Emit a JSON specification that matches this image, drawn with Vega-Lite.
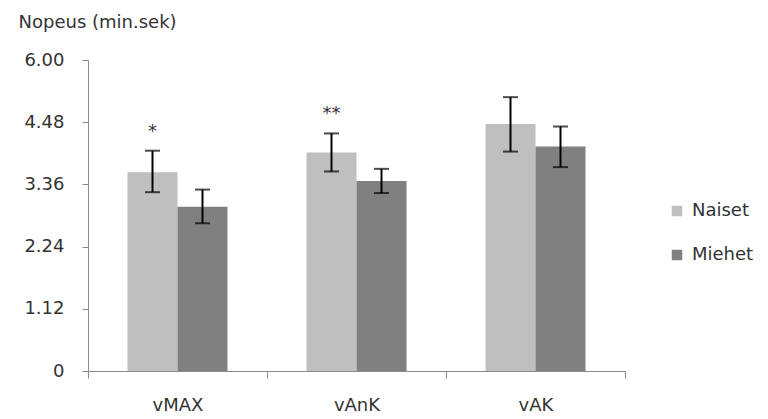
{
  "$schema": "https://vega.github.io/schema/vega-lite/v6.json",
  "width": 537,
  "height": 311,
  "autosize": {"type": "none"},
  "padding": {"left": 88, "top": 60, "right": 143, "bottom": 48},
  "background": "white",
  "config": {
    "view": {"stroke": null},
    "font": "DejaVu Sans",
    "axis": {"labelFont": "DejaVu Sans", "titleFont": "DejaVu Sans", "labelColor": "#333333", "titleColor": "#333333"},
    "legend": {"labelFont": "DejaVu Sans"}
  },
  "data": {
    "values": [
      {"test": "vMAX", "group": "Naiset", "mean": 230, "lo": 207, "hi": 255, "star": "*"},
      {"test": "vMAX", "group": "Miehet", "mean": 190, "lo": 171, "hi": 210, "star": ""},
      {"test": "vAnK", "group": "Naiset", "mean": 253, "lo": 231, "hi": 275, "star": "**"},
      {"test": "vAnK", "group": "Miehet", "mean": 220, "lo": 206, "hi": 234, "star": ""},
      {"test": "vAK", "group": "Naiset", "mean": 286, "lo": 254, "hi": 317, "star": ""},
      {"test": "vAK", "group": "Miehet", "mean": 260, "lo": 236, "hi": 283, "star": ""}
    ]
  },
  "encoding": {
    "x": {
      "field": "test",
      "type": "nominal",
      "sort": ["vMAX", "vAnK", "vAK"],
      "scale": {"paddingInner": 0, "paddingOuter": 0},
      "axis": {
        "title": null,
        "labelAngle": 0,
        "labelFontSize": 18,
        "labelPadding": 18,
        "domainColor": "#8a8a8a",
        "tickColor": "#8a8a8a",
        "tickSize": 7,
        "tickBand": "extent"
      }
    },
    "xOffset": {
      "field": "group",
      "type": "nominal",
      "sort": ["Naiset", "Miehet"],
      "scale": {"paddingInner": 0, "paddingOuter": 0.79}
    }
  },
  "layer": [
    {
      "mark": {"type": "bar"},
      "encoding": {
        "y": {
          "field": "mean",
          "type": "quantitative",
          "scale": {"domain": [0, 360], "nice": false},
          "axis": {
            "values": [0, 72, 144, 216, 288, 360],
            "labelExpr": "datum.value == 0 ? '0' : floor(datum.value / 60) + '.' + (datum.value % 60 < 10 ? '0' : '') + (datum.value % 60)",
            "grid": false,
            "labelFontSize": 18,
            "labelPadding": 18,
            "tickSize": 6,
            "domainColor": "#8a8a8a",
            "tickColor": "#8a8a8a",
            "title": "Nopeus (min.sek)",
            "titleFontSize": 18,
            "titleFontWeight": "normal",
            "titleAngle": 0,
            "titleAlign": "left",
            "titleBaseline": "middle",
            "titleX": -70,
            "titleY": -38
          }
        },
        "color": {
          "field": "group",
          "type": "nominal",
          "sort": ["Naiset", "Miehet"],
          "scale": {"domain": ["Naiset", "Miehet"], "range": ["#bfbfbf", "#808080"]},
          "legend": {
            "title": null,
            "orient": "none",
            "legendX": 580,
            "legendY": 142,
            "symbolType": "square",
            "symbolSize": 110,
            "symbolStrokeWidth": 0,
            "labelFontSize": 18,
            "labelColor": "#333333",
            "labelOffset": 6,
            "rowPadding": 26
          }
        }
      }
    },
    {
      "mark": {"type": "rule", "color": "black", "strokeWidth": 2},
      "encoding": {
        "y": {"field": "lo", "type": "quantitative"},
        "y2": {"field": "hi"}
      }
    },
    {
      "mark": {"type": "tick", "color": "black", "thickness": 2, "size": 15},
      "encoding": {
        "y": {"field": "lo", "type": "quantitative"}
      }
    },
    {
      "mark": {"type": "tick", "color": "black", "thickness": 2, "size": 15},
      "encoding": {
        "y": {"field": "hi", "type": "quantitative"}
      }
    },
    {
      "mark": {"type": "text", "fontSize": 18, "color": "#333333", "baseline": "middle", "dy": -19},
      "encoding": {
        "y": {"field": "hi", "type": "quantitative"},
        "text": {"field": "star"}
      }
    }
  ]
}
